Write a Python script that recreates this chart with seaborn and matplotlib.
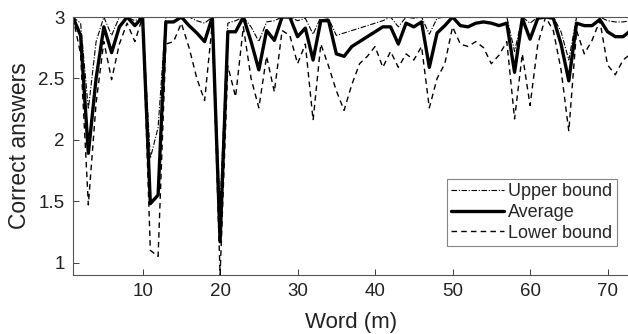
import numpy as np
import pandas as pd
import matplotlib
matplotlib.use('Agg')
import matplotlib.pyplot as plt
import seaborn as sns

# values, word index 1..73
words = list(range(1, 74))

upper = [3.0, 2.95, 2.25, 2.8, 3.0, 2.85, 3.0, 3.0, 2.97, 3.0,
         1.85, 2.1, 3.0, 3.0, 3.0, 3.0, 2.97, 2.95, 3.0, 1.45,
         2.95, 2.97, 3.0, 2.92, 2.8, 2.96, 2.97, 3.0, 3.0, 2.97,
         2.99, 2.86, 3.0, 2.99, 2.85, 2.87, 2.89, 2.91, 2.93, 2.95,
         2.97, 3.0, 2.92, 3.0, 2.99, 3.0, 2.86, 2.99, 3.0, 3.0,
         3.0, 3.0, 3.0, 3.0, 3.0, 3.0, 3.0, 2.72, 3.0, 2.95,
         3.0, 3.0, 3.0, 2.88, 2.65, 3.0, 3.0, 3.0, 3.0, 2.97,
         2.96, 2.96, 2.97]

average = [3.0, 2.85, 1.89, 2.5, 2.92, 2.71, 2.92, 3.0, 2.93, 3.0,
           1.48, 1.55, 2.96, 2.96, 3.0, 2.93, 2.87, 2.8, 3.0, 1.17,
           2.88, 2.88, 3.0, 2.8, 2.57, 2.89, 2.81, 3.0, 3.0, 2.84,
           2.91, 2.65, 2.97, 2.97, 2.70, 2.68, 2.76, 2.80, 2.84, 2.88,
           2.92, 2.92, 2.78, 2.95, 2.92, 2.96, 2.59, 2.87, 2.93, 3.0,
           2.93, 2.92, 2.95, 2.96, 2.95, 2.93, 2.95, 2.55, 2.99, 2.82,
           2.99, 3.0, 2.99, 2.78, 2.48, 2.95, 2.93, 2.93, 2.98, 2.88,
           2.84, 2.84, 2.89]

lower = [3.0, 2.7, 1.47, 2.3, 2.8, 2.49, 2.78, 2.95, 2.8, 3.0,
         1.10, 1.05, 2.78, 2.80, 2.95, 2.75, 2.5, 2.32, 2.95, 0.9,
         2.6, 2.35, 2.92, 2.5, 2.26, 2.68, 2.39, 2.89, 2.85, 2.62,
         2.78, 2.16, 2.78, 2.6, 2.4, 2.24, 2.45, 2.62, 2.68, 2.76,
         2.59, 2.72, 2.59, 2.70, 2.65, 2.76, 2.26, 2.5, 2.62, 2.92,
         2.78, 2.76, 2.80, 2.75, 2.62, 2.69, 2.80, 2.17, 2.70, 2.28,
         2.78, 3.0, 2.89, 2.57, 2.07, 2.89, 2.70, 2.81, 2.97, 2.61,
         2.53, 2.65, 2.7]

xticks = [10, 20, 30, 40, 50, 60, 70]
yticks = [1, 1.5, 2, 2.5, 3]
ytick_labels = ['1', '1.5', '2', '2.5', '3']

df = pd.DataFrame({'word': words, 'upper': upper, 'average': average, 'lower': lower})

sns.set_style('ticks')
plt.rcParams['font.family'] = ['Liberation Sans', 'DejaVu Sans']

fig = plt.figure(figsize=(6.28, 3.34), dpi=100)
ax = fig.add_axes([0.116, 0.177, 0.886, 0.772])

sns.lineplot(data=df, x='word', y='upper', ax=ax, color='black', lw=0.8,
             label='Upper bound')
ax.lines[-1].set_linestyle((0, (5, 1.5, 1, 1.5)))
sns.lineplot(data=df, x='word', y='average', ax=ax, color='black', lw=2.4,
             label='Average')
sns.lineplot(data=df, x='word', y='lower', ax=ax, color='black', lw=1.0,
             label='Lower bound')
ax.lines[-1].set_linestyle((0, (4, 3)))

ax.set_xlim(1, 72.8)
ax.set_ylim(0.9, 3)
ax.set_xticks(xticks)
ax.set_yticks(yticks)
ax.set_yticklabels(ytick_labels)
ax.tick_params(direction='in', length=4, width=0.6, labelsize=13.5,
               colors='#222222', pad=6)
for s in ['left', 'bottom', 'top']:
    ax.spines[s].set_visible(True)
    ax.spines[s].set_color('#555555')
    ax.spines[s].set_linewidth(0.8)
ax.spines['right'].set_visible(False)

ax.set_xlabel('Word (m)', fontsize=16, color='#222222')
ax.set_ylabel('Correct answers', fontsize=16.5, color='#222222')
ax.xaxis.set_label_coords(0.5, -0.145)
ax.yaxis.set_label_coords(-0.075, 0.5)

leg = ax.legend(loc='lower right', bbox_to_anchor=(0.982, 0.263),
                bbox_transform=fig.transFigure, fontsize=13, frameon=True,
                fancybox=False, borderaxespad=0, handlelength=2.9,
                handletextpad=0.25, labelspacing=0.2, borderpad=0.25)
leg.get_frame().set_edgecolor('#666666')
leg.get_frame().set_linewidth(0.8)

fig.savefig('out.png', dpi=100)
